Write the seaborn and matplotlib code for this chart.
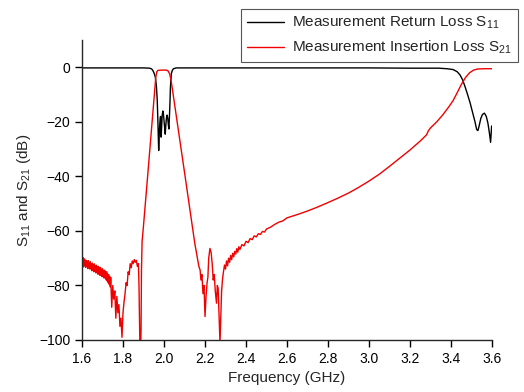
import matplotlib
matplotlib.use("Agg")
import matplotlib.pyplot as plt
import seaborn as sns
import pandas as pd

# ---------------- data ----------------
s11_freq = [1.600, 1.700, 1.800, 1.900, 1.930, 1.940, 1.946, 1.952, 1.958, 1.963,
            1.967, 1.971, 1.974, 1.977, 1.980, 1.983, 1.986, 1.989, 1.991, 1.994,
            1.997, 2.000, 2.003, 2.006, 2.009, 2.012, 2.015, 2.018, 2.021, 2.024,
            2.027, 2.029, 2.031, 2.033, 2.036, 2.040, 2.046, 2.060, 2.400, 2.800,
            3.000, 3.200, 3.340, 3.380, 3.410, 3.430, 3.444, 3.456, 3.468, 3.480,
            3.493, 3.505, 3.517, 3.525, 3.531, 3.537, 3.545, 3.553, 3.563, 3.572,
            3.580, 3.588, 3.593, 3.596, 3.598]
s11_db = [-0.2, -0.2, -0.2, -0.2, -0.3, -0.6, -1.2, -2.2, -3.7, -7.0,
          -12.0, -22.0, -30.5, -24.0, -20.0, -18.0, -25.6, -21.0, -17.7, -16.0,
          -17.0, -19.5, -22.0, -24.5, -21.0, -18.5, -17.5, -18.5, -21.0, -22.6,
          -17.0, -13.0, -8.0, -5.0, -2.3, -1.2, -0.5, -0.2, -0.2, -0.2,
          -0.2, -0.3, -0.3, -0.5, -0.8, -1.6, -2.8, -4.5, -7.0, -9.8,
          -13.0, -16.5, -20.0, -22.8, -23.2, -21.5, -18.8, -17.3, -16.8, -18.0,
          -20.5, -24.5, -27.5, -24.0, -21.5]

s21_freq = [1.600, 1.603, 1.605, 1.608, 1.610, 1.613, 1.615, 1.618, 1.620, 1.623,
            1.625, 1.628, 1.630, 1.633, 1.635, 1.638, 1.640, 1.643, 1.645, 1.648,
            1.650, 1.653, 1.655, 1.658, 1.660, 1.663, 1.665, 1.668, 1.670, 1.673,
            1.675, 1.678, 1.680, 1.683, 1.685, 1.688, 1.690, 1.693, 1.695, 1.698,
            1.700, 1.703, 1.705, 1.708, 1.710, 1.713, 1.715, 1.718, 1.720, 1.723,
            1.725, 1.728, 1.730, 1.733, 1.735, 1.738, 1.740, 1.745,
            1.750, 1.755, 1.760, 1.765, 1.770, 1.775, 1.780, 1.785, 1.790, 1.795,
            1.800, 1.805, 1.810, 1.815, 1.820, 1.825, 1.830, 1.835, 1.840, 1.845,
            1.850, 1.855, 1.860, 1.865, 1.870, 1.875, 1.878, 1.882, 1.886, 1.888,
            1.890, 1.893, 1.900, 1.920, 1.940, 1.955, 1.960, 1.965, 1.970, 1.990,
            2.010, 2.020, 2.028, 2.035, 2.050, 2.100, 2.150, 2.170, 2.176, 2.180,
            2.185, 2.190, 2.195, 2.200, 2.205, 2.210, 2.214, 2.218, 2.224, 2.230,
            2.235, 2.240, 2.245, 2.250, 2.256, 2.260, 2.264, 2.268, 2.273, 2.277,
            2.281, 2.285, 2.289, 2.295, 2.300, 2.305, 2.310, 2.315, 2.320, 2.325,
            2.330, 2.335, 2.340, 2.345, 2.350, 2.355, 2.360, 2.365, 2.370, 2.380,
            2.390, 2.400, 2.410, 2.420, 2.430, 2.440, 2.450, 2.460, 2.470, 2.480,
            2.490, 2.500, 2.520, 2.540, 2.560, 2.580, 2.600, 2.650, 2.700, 2.750,
            2.800, 2.850, 2.900, 2.950, 3.000, 3.050, 3.100, 3.150, 3.200, 3.250,
            3.280, 3.290, 3.300, 3.330, 3.360, 3.390, 3.410, 3.430, 3.450, 3.470,
            3.490, 3.510, 3.530, 3.560, 3.600]
s21_db = [-70.5, -72.8, -69.8, -73.2, -70.2, -72.6, -70.6, -73.4, -70.8, -72.9,
          -71.2, -73.8, -70.9, -73.5, -71.6, -74.0, -71.3, -73.9, -72.0, -74.6,
          -71.8, -74.2, -72.3, -75.0, -72.1, -74.8, -72.8, -75.4, -72.6, -75.1,
          -73.2, -75.9, -73.0, -75.6, -73.6, -76.3, -73.4, -76.0, -74.1, -76.8,
          -73.9, -76.5, -74.6, -77.3, -74.4, -77.0, -75.1, -77.9, -75.0, -78.4,
          -75.8, -79.0, -76.0, -79.6, -76.8, -80.5, -77.0, -88.0,
          -80.0, -85.0, -82.0, -92.0, -84.0, -90.0, -87.0, -95.0, -92.0, -99.0,
          -90.0, -86.0, -83.0, -79.0, -80.0, -75.0, -76.0, -72.0, -73.5, -71.0,
          -72.0, -70.5, -71.5, -70.8, -73.0, -72.0, -80.0, -100.5, -103.0, -96.0,
          -75.0, -64.0, -58.0, -40.0, -21.5, -7.5, -3.5, -1.6, -1.1, -1.0,
          -1.0, -1.3, -2.5, -5.0, -12.7, -38.5, -64.5, -73.0, -74.3, -78.0,
          -76.0, -83.0, -80.0, -91.4, -84.0, -79.0, -77.0, -70.0, -66.4, -68.0,
          -72.0, -78.0, -76.0, -82.0, -86.5, -80.0, -81.0, -90.0, -101.0, -92.0,
          -82.0, -78.0, -75.5, -72.5, -74.0, -71.0, -72.8, -70.0, -71.5, -69.0,
          -70.5, -68.2, -69.5, -67.5, -68.5, -66.5, -67.8, -65.8, -66.8, -65.0,
          -65.5, -63.8, -64.3, -62.8, -63.2, -61.8, -62.2, -61.0, -61.3, -60.2,
          -60.4, -59.3, -58.6, -57.6, -56.8, -56.3, -55.2, -54.0, -52.7, -51.2,
          -49.6, -47.9, -46.1, -44.0, -41.7, -39.2, -36.3, -33.3, -30.3, -27.0,
          -24.8, -23.2, -22.2, -20.0, -17.4, -14.4, -12.2, -9.3, -6.3, -3.8,
          -2.0, -1.0, -0.6, -0.5, -0.5]

x_ticks = [1.6, 1.8, 2.0, 2.2, 2.4, 2.6, 2.8, 3.0, 3.2, 3.4, 3.6]
y_ticks = [0, -20, -40, -60, -80, -100]
series_labels = ["Measurement Return Loss S$_{11}$",
                 "Measurement Insertion Loss S$_{21}$"]

# ---------------- style ----------------
sns.set_style("ticks")
plt.rcParams["font.family"] = ["Liberation Sans", "DejaVu Sans"]
plt.rcParams["mathtext.default"] = "regular"
plt.rcParams["axes.linewidth"] = 1.0

df11 = pd.DataFrame({"f": s11_freq, "db": s11_db})
df21 = pd.DataFrame({"f": s21_freq, "db": s21_db})

fig = plt.figure(figsize=(5.24, 3.92), dpi=100)
ax = fig.add_axes([0.1565, 0.1327, 0.7825, 0.765])

sns.lineplot(data=df11, x="f", y="db", ax=ax, color="black", linewidth=1.0,
             sort=False, estimator=None, label=series_labels[0])
sns.lineplot(data=df21, x="f", y="db", ax=ax, color="#f00000", linewidth=1.0,
             sort=False, estimator=None, label=series_labels[1])

ax.set_xlim(1.6, 3.6)
ax.set_ylim(-100, 10)
ax.set_xticks(x_ticks)
ax.set_xticklabels([f"{t:.1f}" for t in x_ticks])
ax.set_yticks(y_ticks)
ax.tick_params(direction="out", length=5, width=1, labelsize=10, colors="black")
ax.set_xlabel("Frequency (GHz)", fontsize=11)
ax.set_ylabel("S$_{11}$ and S$_{21}$ (dB)", fontsize=11)
sns.despine(ax=ax)

ax.get_legend().remove()
handles, labels = ax.get_legend_handles_labels()
leg = fig.legend(handles, labels, loc="upper right", bbox_to_anchor=(1.003, 0.997),
                 fontsize=11, frameon=True, fancybox=False, framealpha=1,
                 edgecolor="#555555", handlelength=2.4, handletextpad=0.5,
                 labelspacing=0.5, borderpad=0.4)
leg.get_frame().set_linewidth(0.8)

fig.savefig("out.png", dpi=100)
